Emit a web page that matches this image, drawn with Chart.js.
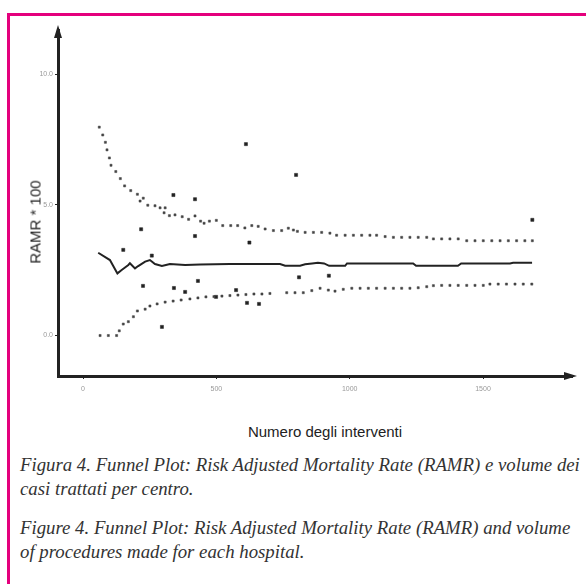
<!DOCTYPE html>
<html>
<head>
<meta charset="utf-8">
<script src="https://cdn.jsdelivr.net/npm/chart.js@4.4.0/dist/chart.umd.min.js"></script>
<style>
  html, body { margin: 0; padding: 0; background: #fff; }
  body { width: 586px; height: 584px; position: relative; overflow: hidden; font-family: "Liberation Sans", Arial, sans-serif; }
  #frame { position: absolute; left: 7px; top: 13px; width: 620px; height: 620px; border-top: 3px solid #e4007c; border-left: 3px solid #e4007c; }
  #chart { position: absolute; left: 0; top: 0; }
  #ytitle { position: absolute; left: 35px; top: 222px; transform: translate(-50%, -50%) rotate(-90deg); font-size: 15px; color: #222; white-space: nowrap; }
  #xtitle { position: absolute; left: 0; width: 650px; top: 423px; text-align: center; font-size: 15px; color: #222; }
  .cap { position: absolute; left: 20px; width: 566px; font-family: "Liberation Serif", serif; font-style: italic; font-size: 18.8px; color: #333; line-height: 24px; }
</style>
</head>
<body>
<div id="frame"></div>
<canvas id="chart" width="586" height="420"></canvas>
<div id="ytitle">RAMR * 100</div>
<div id="xtitle">Numero degli interventi</div>
<div class="cap" style="top:453px">Figura 4. Funnel Plot: Risk Adjusted Mortality Rate (RAMR) e volume dei<br>casi trattati per centro.</div>
<div class="cap" style="top:516px">Figure 4. Funnel Plot: Risk Adjusted Mortality Rate (RAMR) and volume<br>of procedures made for each hospital.</div>
<script>
// axis ticks
var xTicks = [0, 500, 1000, 1500];
var yTicks = [0, 5, 10];

// upper control limit (dotted)
var upperN = [61, 74, 84, 90, 99, 105, 123, 140, 156, 179, 204, 214, 226, 243, 270, 289, 304, 308, 324, 345,
  372, 396, 420, 441, 454, 474, 500, 524, 554, 580, 607, 633, 657, 683, 714, 745, 770, 789, 804, 833,
  864, 895, 926, 951, 983, 1014, 1045, 1076, 1101, 1133, 1164, 1195, 1226, 1257, 1289, 1314, 1345, 1376, 1407, 1439,
  1470, 1501, 1533, 1564, 1595, 1626, 1657, 1685];
var upperV = [7.98, 7.68, 7.40, 7.11, 6.80, 6.52, 6.28, 6.01, 5.73, 5.55, 5.41, 5.15, 5.26, 4.99, 4.97, 4.89, 4.70, 4.89, 4.59, 4.62,
  4.55, 4.45, 4.58, 4.38, 4.30, 4.38, 4.41, 4.21, 4.21, 4.21, 4.12, 4.21, 4.18, 4.08, 4.02, 4.02, 4.11, 4.04, 3.99, 3.95,
  3.95, 3.95, 3.92, 3.84, 3.84, 3.84, 3.84, 3.84, 3.84, 3.79, 3.76, 3.76, 3.76, 3.76, 3.76, 3.70, 3.70, 3.70, 3.70, 3.63,
  3.63, 3.63, 3.63, 3.63, 3.63, 3.63, 3.63, 3.63];

// lower control limit (dotted)
var lowerN = [64, 95, 126, 136, 151, 170, 189, 204, 233, 251, 278, 308, 338, 368, 401, 431, 461, 491, 521, 551,
  581, 611, 641, 671, 701, 764, 795, 826, 858, 889, 920, 945, 976, 1008, 1039, 1070, 1101, 1133, 1164, 1195,
  1226, 1257, 1289, 1314, 1345, 1376, 1407, 1439, 1470, 1501, 1526, 1557, 1588, 1620, 1651, 1683];
var lowerV = [0, 0, 0, 0.18, 0.44, 0.53, 0.72, 0.94, 1.01, 1.13, 1.21, 1.28, 1.32, 1.36, 1.40, 1.44, 1.48, 1.49, 1.51, 1.53,
  1.55, 1.57, 1.59, 1.59, 1.61, 1.64, 1.64, 1.64, 1.72, 1.81, 1.74, 1.70, 1.77, 1.81, 1.81, 1.81, 1.81, 1.81, 1.81, 1.81,
  1.81, 1.83, 1.87, 1.91, 1.92, 1.92, 1.92, 1.92, 1.92, 1.92, 1.97, 1.97, 1.97, 1.97, 1.97, 1.97];

// average RAMR (solid)
var meanN = [57, 101, 129, 145, 170, 176, 195, 207, 233, 251, 270, 296, 326, 383, 439, 551, 664, 739, 758, 814,
  833, 859, 881, 904, 923, 983, 990, 1238, 1249, 1406, 1418, 1601, 1613, 1684];
var meanV = [3.17, 2.89, 2.38, 2.51, 2.70, 2.77, 2.57, 2.66, 2.83, 2.89, 2.74, 2.66, 2.74, 2.70, 2.72, 2.74, 2.74, 2.74, 2.67, 2.67,
  2.73, 2.76, 2.79, 2.76, 2.67, 2.67, 2.76, 2.76, 2.67, 2.67, 2.76, 2.76, 2.79, 2.79];

// hospitals
var hospN = [611, 799, 339, 420, 218, 420, 624, 151, 258, 1685, 810, 922, 341, 296, 383, 431, 499, 574, 615, 660, 225];
var hospV = [7.33, 6.15, 5.38, 5.22, 4.07, 3.81, 3.56, 3.28, 3.06, 4.43, 2.23, 2.29, 1.82, 0.33, 1.67, 2.09, 1.48, 1.74, 1.25, 1.21, 1.90];

function pts(xs, ys) {
  return xs.map(function (x, i) { return { x: x, y: ys[i] }; });
}

var axisArrows = {
  id: 'axisArrows',
  afterDraw: function (chart) {
    var a = chart.chartArea, c = chart.ctx;
    c.save();
    c.fillStyle = '#222';
    c.beginPath();
    c.moveTo(a.left, a.top - 5);
    c.lineTo(a.left - 4, a.top + 8);
    c.lineTo(a.left + 4, a.top + 8);
    c.closePath();
    c.fill();
    c.beginPath();
    c.moveTo(a.right + 5, a.bottom);
    c.lineTo(a.right - 8, a.bottom - 4);
    c.lineTo(a.right - 8, a.bottom + 4);
    c.closePath();
    c.fill();
    c.restore();
  }
};

var ctx = document.getElementById('chart').getContext('2d');
new Chart(ctx, {
  type: 'scatter',
  data: {
    datasets: [{
      label: 'Limite superiore',
      data: pts(upperN, upperV),
      pointStyle: 'rect',
      pointRadius: 1.5,
      backgroundColor: '#444',
      borderColor: '#444',
      borderWidth: 0.5
    }, {
      label: 'Limite inferiore',
      data: pts(lowerN, lowerV),
      pointStyle: 'rect',
      pointRadius: 1.5,
      backgroundColor: '#444',
      borderColor: '#444',
      borderWidth: 0.5
    }, {
      label: 'Media',
      data: pts(meanN, meanV),
      showLine: true,
      pointRadius: 0,
      borderColor: '#222',
      borderWidth: 2
    }, {
      label: 'Centri',
      data: pts(hospN, hospV),
      pointStyle: 'rect',
      pointRadius: 2.2,
      backgroundColor: '#222',
      borderColor: '#222',
      borderWidth: 0.5
    }]
  },
  options: {
    responsive: false,
    animation: false,
    devicePixelRatio: 1,
    layout: { padding: { left: 0, top: 30, right: 14, bottom: 0 } },
    plugins: {
      legend: { display: false },
      tooltip: { enabled: false }
    },
    scales: {
      x: {
        type: 'linear',
        min: -93.75,
        max: 1833.75,
        afterBuildTicks: function (s) { s.ticks = xTicks.map(function (v) { return { value: v }; }); },
        afterFit: function (s) { s.height = 44; },
        grid: { drawOnChartArea: false, drawTicks: true, tickLength: 3, color: '#222' },
        border: { display: true, color: '#222', width: 3 },
        ticks: { autoSkip: false, maxRotation: 0, padding: 6, color: '#999', font: { size: 7 },
          callback: function (v) { return String(v); } }
      },
      y: {
        type: 'linear',
        min: -1.55,
        max: 11.7,
        afterBuildTicks: function (s) { s.ticks = yTicks.map(function (v) { return { value: v }; }); },
        afterFit: function (s) { s.width = 58; },
        grid: { drawOnChartArea: false, drawTicks: true, tickLength: 3, color: '#222' },
        border: { display: true, color: '#222', width: 3 },
        ticks: { autoSkip: false, padding: 2, color: '#999', font: { size: 7 },
          callback: function (v) { return v.toFixed(1); } }
      }
    }
  },
  plugins: [axisArrows]
});
</script>
</body>
</html>
